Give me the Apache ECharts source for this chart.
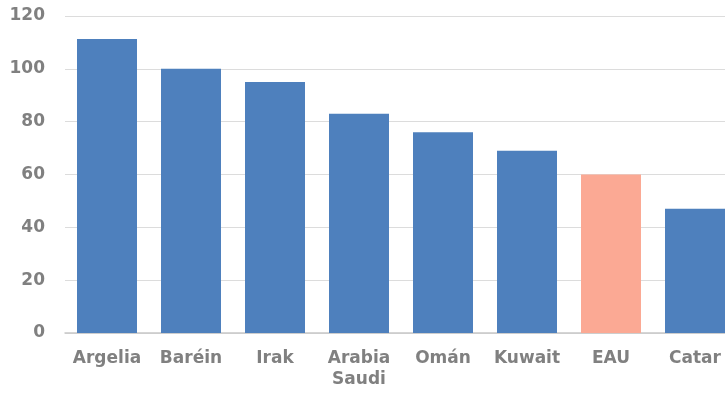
<!DOCTYPE html>
<html><head><meta charset="utf-8">
<script src="https://cdn.jsdelivr.net/npm/echarts@6/dist/echarts.min.js"></script>
<style>html,body{margin:0;padding:0;background:#fff;overflow:hidden;width:725px;height:394px}#c{width:737px;height:394px}</style>
</head><body><div id="c"></div>
<script>
const categories = ['Argelia', 'Baréin', 'Irak', 'Arabia\nSaudi', 'Omán', 'Kuwait', 'EAU', 'Catar'];
const values = [111.3, 100, 95, 83, 76, 69, 60, 47];
const highlight = 'EAU';
const yTicks = { min: 0, max: 120, interval: 20 };

const chart = echarts.init(document.getElementById('c'));
chart.setOption({
  animation: false,
  grid: { left: 65, top: 16, right: 0, height: 317 },
  xAxis: {
    type: 'category', data: categories,
    axisLine: { lineStyle: { color: '#c8c8c8', width: 1.5 } },
    axisTick: { show: false },
    axisLabel: { color: '#808080', fontFamily: 'DejaVu Sans', fontWeight: 'bold', fontSize: 17, margin: 15, lineHeight: 21, interval: 0 }
  },
  yAxis: {
    type: 'value', min: yTicks.min, max: yTicks.max, interval: yTicks.interval,
    axisLine: { show: false }, axisTick: { show: false },
    splitLine: { lineStyle: { color: '#dcdcdc', width: 1 } },
    axisLabel: { color: '#808080', fontFamily: 'DejaVu Sans', fontWeight: 'bold', fontSize: 17, margin: 20 }
  },
  series: [{
    type: 'bar', barWidth: 60,
    data: values.map((v, i) => ({ value: v, itemStyle: { color: categories[i] === highlight ? '#FBA994' : '#4E80BD' } }))
  }]
});
</script></body></html>
